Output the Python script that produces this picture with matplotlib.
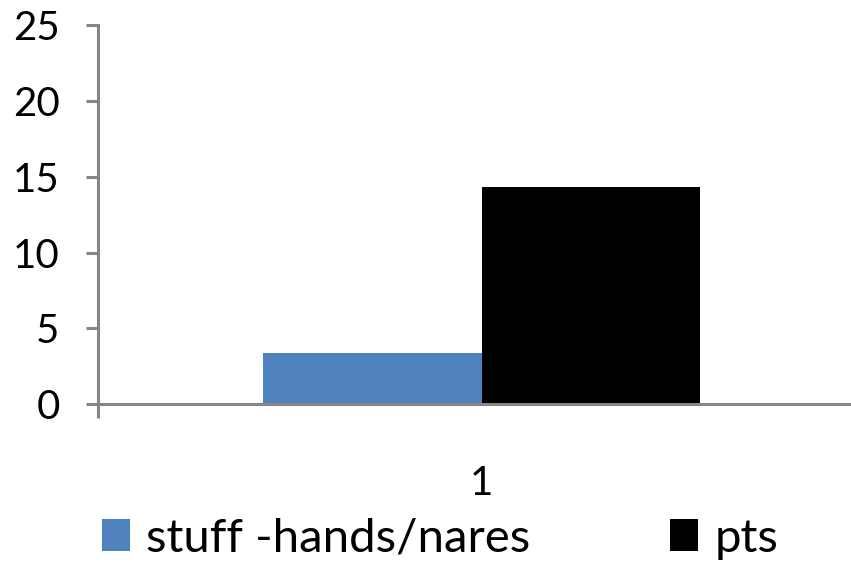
import numpy as np
import matplotlib
matplotlib.use("Agg")
import matplotlib.pyplot as plt
from matplotlib.patches import Patch

plt.rcParams["font.family"] = ["Lato", "DejaVu Sans"]

categories = ["1"]
series_names = ["stuff -hands/nares", "pts"]
series_values = [[3.38], [14.33]]
colors = ["#4F81BD", "#000000"]
AXIS_GREY = "#868686"

fig = plt.figure(figsize=(8.51, 5.66), dpi=100)
# plot area runs past the right edge of the canvas
ax = fig.add_axes([98 / 851, 161.7 / 566, 767 / 851, 379.3 / 566])

x = np.arange(1, len(categories) + 1)
w = 0.2845
for i, (name, vals, c) in enumerate(zip(series_names, series_values, colors)):
    ax.bar(x + (i - 0.5) * w, vals, width=w, color=c, label=name, zorder=1)

ax.set_xlim(0.5, len(categories) + 0.5)
ax.set_ylim(0, 25)
ax.set_yticks(np.arange(0, 26, 5))
ax.set_xticks(x)
ax.set_xticklabels(categories)
ax.set_xticks(np.arange(0.5, len(categories) + 1), minor=True)

for s in ["top", "right"]:
    ax.spines[s].set_visible(False)
for s in ["left", "bottom"]:
    ax.spines[s].set_color(AXIS_GREY)
    ax.spines[s].set_linewidth(2.2)
    ax.spines[s].set_zorder(3)

ax.tick_params(axis="y", direction="out", length=8.6, width=2.2, color=AXIS_GREY,
               labelsize=29, pad=19)
ax.tick_params(axis="x", which="major", length=0, labelsize=29, pad=44)
ax.tick_params(axis="x", which="minor", direction="out", length=10, width=2.2,
               color=AXIS_GREY)

handles = [Patch(facecolor=c, edgecolor="none") for c in colors]
fig.legend(handles, series_names, loc="lower left", bbox_to_anchor=(83 / 851, -0.022),
           ncol=2, frameon=False, fontsize=34, handlelength=0.6, handleheight=0.68,
           handletextpad=0.34, columnspacing=2.95, borderaxespad=0)

fig.savefig("out.png", dpi=100)
